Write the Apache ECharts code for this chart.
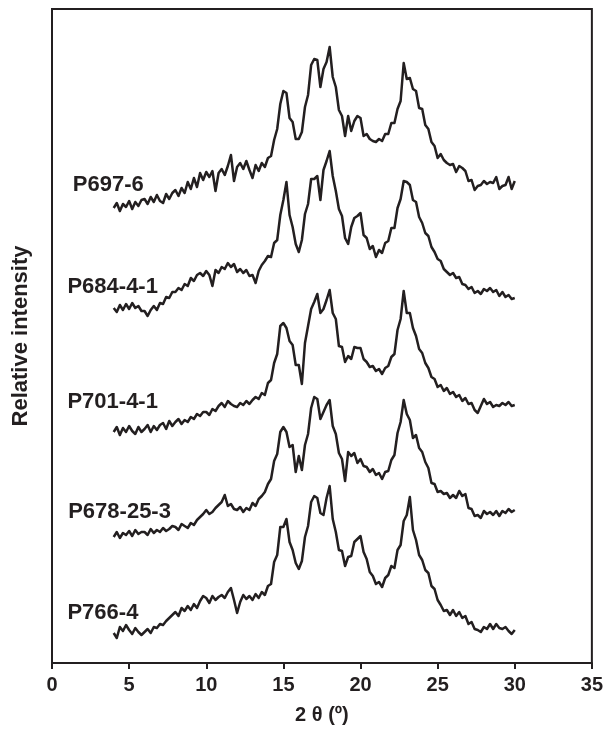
<!DOCTYPE html>
<html>
<head>
<meta charset="utf-8">
<script src="https://cdn.jsdelivr.net/npm/echarts@6/dist/echarts.min.js"></script>
<style>
html,body{margin:0;padding:0;background:#fff;}
#chart{width:606px;height:732px;}
</style>
</head>
<body>
<div id="chart"></div>
<script>
// 2θ sampling grid (degrees): 4.0 .. 30.0 every 0.2
const thetaStart = 4.0;
const thetaStep = 0.2;

const sampleNames = ['P697-6', 'P684-4-1', 'P701-4-1', 'P678-25-3', 'P766-4'];

// Relative intensities (arbitrary units)
const p697_6 = [
  25,30,22,29,26,32,24,31,27,33,
  34,29,36,31,38,32,30,39,34,40,
  43,37,45,40,51,44,55,46,60,53,
  61,56,62,42,60,64,58,67,78,52,
  66,70,64,72,63,55,68,62,70,66,
  75,77,93,104,129,142,140,115,111,94,
  94,101,126,138,168,174,173,146,164,171,
  186,156,146,123,117,97,117,102,112,117,
  115,97,99,94,92,91,94,92,99,99,
  110,110,124,132,170,154,155,144,142,125,
  124,108,104,91,87,75,79,73,70,68,
  69,61,67,65,62,52,53,43,47,48,
  52,49,51,50,56,44,47,48,56,44,
  52
];
const p684_4_1 = [
  25,21,28,23,29,24,30,25,27,22,
  22,17,23,27,23,30,29,36,35,41,
  41,45,43,49,47,55,52,58,60,57,
  62,58,47,63,60,66,64,70,66,69,
  61,64,60,63,57,58,50,62,68,72,
  77,76,90,93,118,133,151,118,106,89,
  81,93,119,129,154,154,157,133,163,172,
  182,157,142,124,117,95,89,106,115,117,
  120,98,95,84,87,76,83,80,90,92,
  105,105,125,134,152,151,148,133,131,116,
  110,100,97,86,81,74,72,64,61,58,
  60,55,56,49,48,44,46,40,42,39,
  44,42,45,41,43,37,41,36,38,34,
  35
];
const p701_4_1 = [
  25,30,22,29,25,31,26,23,30,25,
  28,32,25,31,27,32,34,28,36,31,
  35,38,33,37,35,40,38,43,41,45,
  45,42,48,46,51,54,50,56,53,51,
  50,54,52,56,53,57,60,58,64,62,
  74,77,94,103,131,134,129,116,112,92,
  92,73,114,131,148,155,163,144,148,157,
  167,144,138,111,110,95,101,98,110,109,
  109,98,95,90,91,86,88,83,89,91,
  100,103,127,138,166,144,144,129,121,108,
  104,94,89,80,78,70,72,66,69,63,
  65,60,62,56,59,53,54,47,44,51,
  58,53,55,50,52,51,54,52,55,51,
  52
];
const p678_25_3 = [
  25,30,24,29,27,31,26,32,28,30,
  30,27,33,29,32,30,34,31,33,36,
  35,32,38,36,34,39,37,42,45,48,
  52,48,50,54,57,60,67,56,58,53,
  52,55,50,54,52,59,56,63,66,70,
  78,83,101,108,130,135,130,115,117,90,
  106,92,117,128,154,165,163,143,150,157,
  162,136,128,109,103,81,110,106,109,99,
  103,96,95,90,93,87,89,83,90,91,
  102,107,129,140,162,148,142,124,127,114,
  110,100,94,79,78,70,71,68,69,64,
  67,64,71,66,68,54,53,46,47,44,
  51,48,50,47,51,46,51,49,53,50,
  52
];
const p766_4 = [
  25,20,31,27,33,28,24,30,26,23,
  26,29,25,31,30,34,33,37,40,43,
  46,42,50,47,52,48,54,50,57,62,
  60,55,62,58,61,63,60,66,70,58,
  45,56,63,59,62,58,64,60,66,63,
  72,74,96,103,131,131,139,116,108,95,
  89,97,121,132,156,162,160,145,143,160,
  172,139,126,108,107,92,101,102,116,119,
  122,106,99,86,82,74,76,71,80,83,
  92,90,108,113,137,143,161,128,118,103,
  98,88,85,72,69,58,53,47,48,43,
  48,42,46,40,42,34,36,29,28,26,
  31,29,34,29,34,30,29,31,27,24,
  28
];

const seriesValues = [p697_6, p684_4_1, p701_4_1, p678_25_3, p766_4];
// vertical stacking offsets (same units as intensity)
const offsets = [430, 330, 206, 101, 5];

const xTicks = [0, 5, 10, 15, 20, 25, 30, 35];

// label placement: anchor 2θ and lift above curve start (intensity units)
const labelTheta = [1.35, 1.0, 1.0, 1.05, 1.0];
const labelLift = [23, 21, 30, 25, 20];

const INK = '#231f20';
const FONT = 'Liberation Sans, Arial, sans-serif';

const chart = echarts.init(document.getElementById('chart'), null, {renderer: 'canvas'});

const series = seriesValues.map((vals, i) => ({
  name: sampleNames[i],
  type: 'line',
  showSymbol: false,
  symbol: 'none',
  smooth: false,
  animation: false,
  lineStyle: {color: INK, width: 2.5, join: 'round'},
  data: vals.map((v, k) => [+(thetaStart + k * thetaStep).toFixed(2), v + offsets[i]])
}));

chart.setOption({
  animation: false,
  backgroundColor: '#fff',
  grid: {left: 52, right: 9, top: 9, bottom: 69, show: true, borderColor: INK, borderWidth: 2, backgroundColor: 'transparent'},
  xAxis: {
    type: 'value', min: xTicks[0], max: xTicks[xTicks.length - 1], interval: 5,
    axisLine: {show: true, lineStyle: {color: INK, width: 2}},
    axisTick: {show: true, inside: false, length: 6, lineStyle: {color: INK, width: 2}},
    axisLabel: {color: INK, fontFamily: FONT, fontWeight: 'bold', fontSize: 20, margin: 12},
    splitLine: {show: false},
    name: '2 θ (º)', nameLocation: 'middle', nameGap: 42,
    nameTextStyle: {color: INK, fontFamily: FONT, fontWeight: 'bold', fontSize: 20}
  },
  yAxis: {
    type: 'value', min: 0, max: 654,
    axisLine: {show: true, lineStyle: {color: INK, width: 2}},
    axisTick: {show: false}, axisLabel: {show: false}, splitLine: {show: false},
    name: 'Relative intensity', nameLocation: 'middle', nameGap: 20,
    nameTextStyle: {color: INK, fontFamily: FONT, fontWeight: 'bold', fontSize: 22}
  },
  series: series
});

const graphics = sampleNames.map((name, i) => {
  const p = chart.convertToPixel({gridIndex: 0}, [labelTheta[i], offsets[i] + seriesValues[i][0] + labelLift[i]]);
  return {
    type: 'text', x: p[0], y: p[1],
    style: {text: name, fill: INK, font: 'bold 22px ' + FONT, align: 'left', verticalAlign: 'middle', textAlign: 'left', textVerticalAlign: 'middle'}
  };
});
chart.setOption({graphic: graphics});
</script>
</body>
</html>
